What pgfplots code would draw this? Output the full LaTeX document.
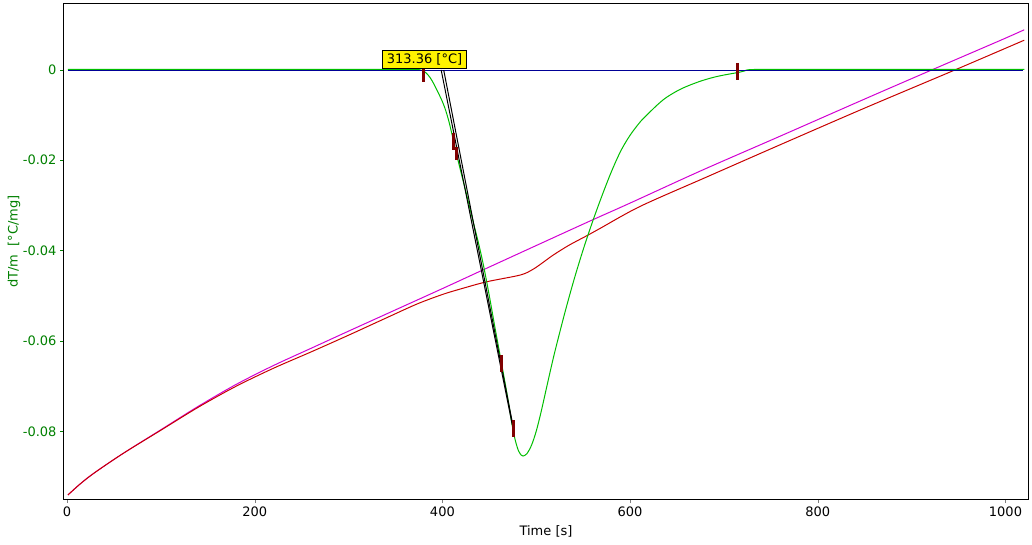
\documentclass[border=0pt]{standalone}
\usepackage{fontspec}
\setmainfont{DejaVu Sans}
\usepackage{pgfplots}
\pgfplotsset{compat=1.18}
\definecolor{cgreen}{RGB}{0,190,0}
\definecolor{cblue}{RGB}{0,0,150}
\definecolor{cmag}{RGB}{210,0,210}
\definecolor{cred}{RGB}{200,0,0}
\definecolor{cmark}{RGB}{128,0,0}
\definecolor{ctick}{RGB}{0,128,0}
\begin{document}
\begin{tikzpicture}
\begin{axis}[
  scale only axis, width=964pt, height=495pt,
  xmin=-3.2, xmax=1024, ymin=-0.0949, ymax=0.0145,
  xtick={0,200,...,1000}, ytick={-0.08,-0.06,-0.04,-0.02,0},
  scaled y ticks=false, scaled x ticks=false,
  tick pos=left, tick align=outside, major tick length=4pt,
  axis line style={line width=1pt},
  font=\fontsize{13pt}{15pt}\selectfont,
  /pgf/number format/assume math mode=true,
  /pgf/number format/1000 sep={},
  yticklabel style={text=ctick, /pgf/number format/fixed, /pgf/number format/precision=2},
  ytick style={ctick},
  xlabel={Time [s]}, ylabel={dT/m\ \ [°C/mg]},
  xlabel style={at={(axis description cs:0.5,0)}, yshift=-32pt, anchor=center},
  ylabel style={text=ctick, at={(axis description cs:-0.0519,0.52)}, anchor=center},
  clip=false,
]
% magenta
\addplot[cmag, line width=1pt, smooth] coordinates {
(1,-0.0940) (15,-0.0914) (30,-0.0890) (60,-0.0848) (100,-0.0796) (140,-0.0744)
(180,-0.0696) (220,-0.0654) (260,-0.0616) (300,-0.0578) (350,-0.0531) (400,-0.0484)
(444,-0.0442) (504,-0.0385) (559,-0.0333) (600,-0.0295) (675,-0.0224) (760,-0.0147)
(850,-0.0065) (920,-0.0002) (995,0.0065) (1020,0.0088)};
% red
\addplot[cred, line width=1pt, smooth] coordinates {
(1,-0.0940) (15,-0.0914) (30,-0.0890) (60,-0.0848) (100,-0.0797) (140,-0.0746)
(180,-0.0700) (220,-0.0660) (260,-0.0624) (300,-0.0587) (340,-0.0549) (373,-0.0518)
(400,-0.0497) (419,-0.0485) (447,-0.0469) (483,-0.0454) (496,-0.0442) (506,-0.0428)
(518,-0.0410) (535,-0.0388) (554,-0.0367) (568,-0.0351) (611,-0.0302) (682,-0.0237)
(760,-0.0166) (850,-0.0085) (947,0.0000) (1020,0.0065)};
% green
\addplot[cgreen, line width=1pt, smooth] coordinates {
(1,0.00005) (100,0.00005) (200,0.00005) (300,0.00005) (350,0.00005) (370,0.0000)
(375,0.0000) (379,-0.0002) (383,-0.0008) (387,-0.0018) (391,-0.0032) (395,-0.0049)
(399,-0.0066) (403,-0.0087) (407,-0.0115) (411,-0.0150) (416,-0.0195) (422,-0.0245)
(428,-0.0295) (433,-0.0338) (439,-0.0388) (444,-0.0435) (450,-0.0500) (456,-0.0570)
(463,-0.0649) (470,-0.0730) (474,-0.0782) (477.5,-0.0818) (481,-0.0842) (484,-0.0852)
(486,-0.0854) (490,-0.0849) (495,-0.0830) (500,-0.0799) (505,-0.0758) (510,-0.0712)
(515,-0.0666) (520,-0.0622) (530,-0.0541) (540,-0.0466) (550,-0.0398) (560,-0.0336)
(570,-0.0279) (580,-0.0226) (590,-0.0180) (600,-0.0145) (611,-0.0115) (620,-0.0096)
(629,-0.0078) (637,-0.0064) (646,-0.0052) (655,-0.0042) (664,-0.0034) (673,-0.0027)
(682,-0.0021) (691,-0.0016) (700,-0.0012) (708,-0.0009) (716,-0.0006) (722,-0.0003)
(728,0.0000) (760,0.00005) (850,0.00005) (950,0.00005) (1020,0.00005)};
% blue baseline
\addplot[cblue, line width=1.1pt] coordinates {(1,-0.00025) (1019,-0.00025)};
% tangent lines
\addplot[black, line width=1pt] coordinates {(398.7,-0.0001) (474.5,-0.0785)};
\addplot[black, line width=1pt] coordinates {(401.4,-0.0001) (475.5,-0.0790)};
% markers
\addplot[cmark, line width=3pt] coordinates {(380,0.0003) (380,-0.0027)};
\addplot[cmark, line width=3pt] coordinates {(412,-0.0140) (412,-0.0178)};
\addplot[cmark, line width=3pt] coordinates {(415.4,-0.0171) (415.4,-0.0200)};
\addplot[cmark, line width=3pt] coordinates {(463.4,-0.0631) (463.4,-0.0668)};
\addplot[cmark, line width=3pt] coordinates {(475.8,-0.0775) (475.8,-0.0813)};
\addplot[cmark, line width=3pt] coordinates {(714.6,0.0015) (714.6,-0.0022)};
\node[fill=yellow, draw=black, line width=0.8pt, inner xsep=4.5pt, inner ysep=3.5pt,
      font=\fontsize{13pt}{15pt}\selectfont] at (axis cs:381,0.0023) {313.36 [°C]};
\end{axis}
\pgfresetboundingbox
\path ([shift={(-64pt,-45pt)}]current axis.south west) rectangle ([shift={(4pt,4pt)}]current axis.north east);
\end{tikzpicture}
\end{document}
